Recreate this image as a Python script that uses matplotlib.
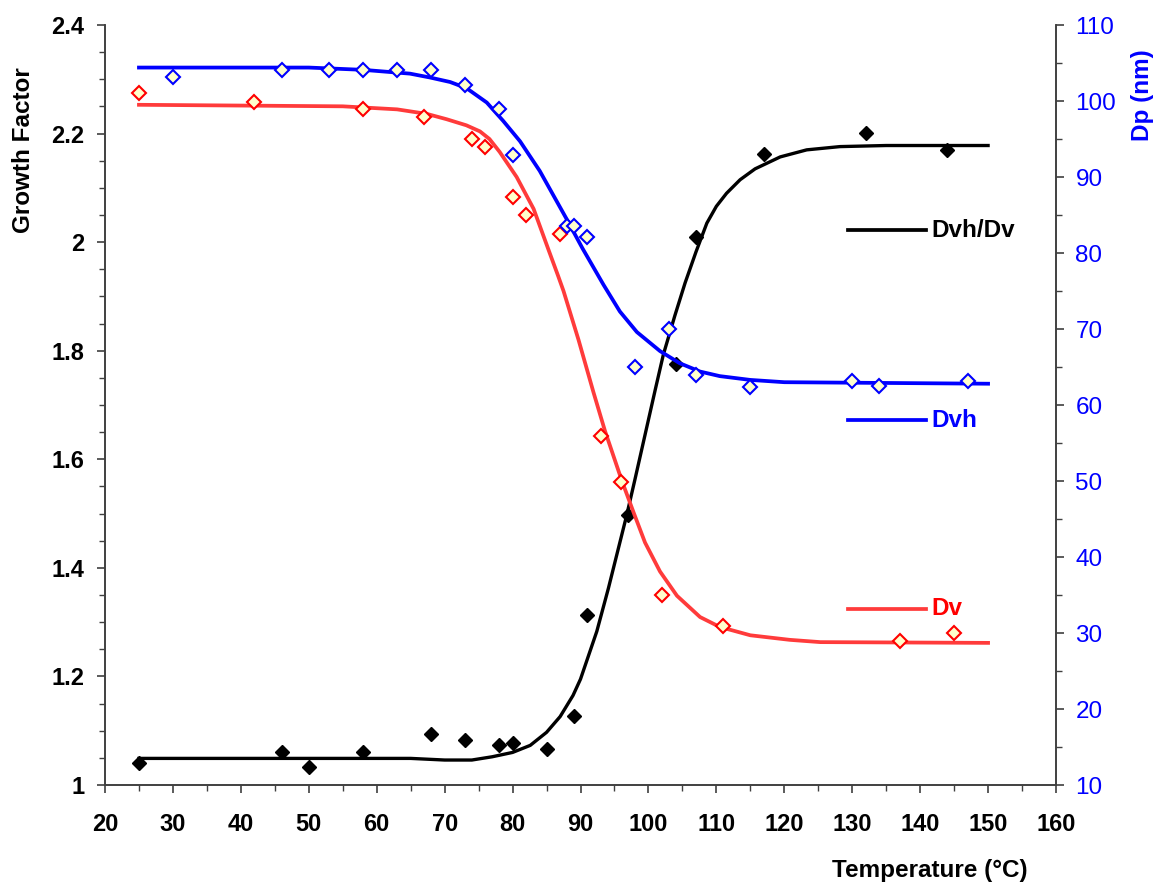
import matplotlib
matplotlib.use("Agg")
import matplotlib.pyplot as plt
from matplotlib.ticker import MultipleLocator

plt.rcParams['font.family'] = ['Liberation Sans', 'DejaVu Sans']

# measured points
temp_gf = [25, 46, 50, 58, 68, 73, 78, 80, 85, 89, 91, 97, 104, 107, 117, 132, 144]
gf_pts = [1.040, 1.061, 1.033, 1.061, 1.094, 1.083, 1.074, 1.077, 1.066, 1.128,
          1.313, 1.497, 1.775, 2.010, 2.162, 2.201, 2.170]

temp_dv = [25, 42, 58, 67, 74, 76, 80, 82, 87, 93, 96, 102, 111, 137, 145]
dv_pts = [101.1, 99.9, 98.9, 97.9, 95.0, 93.9, 87.4, 85.0, 82.5, 55.9, 49.9,
          35.0, 30.9, 29.0, 30.0]

temp_dvh = [30, 46, 53, 58, 63, 68, 73, 78, 80, 88, 89, 91, 98, 103, 107, 115,
            130, 134, 147]
dvh_pts = [103.1, 104.1, 104.1, 104.1, 104.1, 104.1, 102.1, 98.9, 92.9, 83.5,
           83.6, 82.1, 65.0, 70.0, 64.0, 62.4, 63.1, 62.5, 63.1]

# fitted curves
fit_t_gf = [25, 65, 70, 74, 77, 80, 82.6, 85, 87, 88.9, 90, 92.4, 94.1, 95.6,
            96.8, 98, 99.5, 101, 102.2, 103.9, 105.4, 107, 108.6, 110, 111.5,
            113.5, 115.7, 119.4, 123.3, 128.2, 135, 150]
fit_gf = [1.049, 1.049, 1.046, 1.046, 1.052, 1.060, 1.073, 1.097, 1.126, 1.165,
          1.195, 1.283, 1.362, 1.437, 1.497, 1.562, 1.645, 1.728, 1.793, 1.865,
          1.925, 1.982, 2.035, 2.066, 2.090, 2.115, 2.135, 2.157, 2.170, 2.176,
          2.178, 2.178]

fit_t_dv = [25, 55, 63, 67.4, 70.3, 73.2, 75.2, 76.6, 78.1, 80.6, 83.1, 85.3,
            86.7, 87.5, 89.7, 91.9, 93.6, 96.1, 97.8, 99.5, 101.7, 104.2, 107.6,
            110.5, 115, 120.8, 125.3, 150]
fit_dv = [99.5, 99.3, 98.9, 98.3, 97.6, 96.8, 96.0, 95.0, 93.3, 90.0, 85.8, 80.4,
          77.0, 75.0, 68.6, 61.7, 56.6, 50.0, 45.9, 41.9, 38.1, 34.9, 32.1,
          30.8, 29.7, 29.1, 28.8, 28.7]

fit_t_dvh = [25, 50, 58, 64.9, 67.8, 70.8, 73.2, 76.2, 78.6, 81.1, 84.0, 86.0,
             88.0, 90.3, 93.4, 95.8, 98.3, 101.7, 104.6, 107.6, 110.5, 115, 120,
             150]
fit_dvh = [104.4, 104.4, 104.1, 103.6, 103.1, 102.5, 101.7, 99.8, 97.4, 94.7,
           90.8, 87.6, 84.4, 80.6, 75.8, 72.3, 69.6, 67.1, 65.5, 64.4, 63.8,
           63.3, 63.0, 62.8]

red_line = '#ff3b3b'
blue = '#0000ff'
pale = '#ffffcc'

fig = plt.figure(figsize=(11.58, 8.85), dpi=100)
ax = fig.add_axes([105 / 1158, 100 / 885, 951 / 1158, 760 / 885])
ax2 = ax.twinx()

ax.plot(fit_t_gf, fit_gf, color='black', lw=2.4, zorder=2)
ax.plot(temp_gf, gf_pts, 'D', color='black', ms=7.5, zorder=5)

ax2.plot(fit_t_dv, fit_dv, color=red_line, lw=2.7, zorder=2)
ax2.plot(fit_t_dvh, fit_dvh, color=blue, lw=2.7, zorder=2)
ax2.plot(temp_dv, dv_pts, 'D', mfc=pale, mec='red', mew=1.5, ms=7.5, ls='none', zorder=5)
ax2.plot(temp_dvh, dvh_pts, 'D', mfc=pale, mec=blue, mew=1.5, ms=7.5, ls='none', zorder=5)

ax.set_xlim(20, 160)
ax.set_ylim(1, 2.4)
ax2.set_ylim(10, 110)

ax.xaxis.set_major_locator(MultipleLocator(10))
ax.xaxis.set_minor_locator(MultipleLocator(5))
ax.yaxis.set_major_locator(MultipleLocator(0.2))
ax.yaxis.set_minor_locator(MultipleLocator(0.05))
ax.yaxis.set_major_formatter(plt.FuncFormatter(lambda v, p: f"{v:g}"))
ax2.yaxis.set_major_locator(MultipleLocator(10))
ax2.yaxis.set_minor_locator(MultipleLocator(5))

for a in (ax, ax2):
    a.spines['top'].set_visible(False)
    for s in a.spines.values():
        s.set_color('#404040')
        s.set_linewidth(1.2)
ax.tick_params(axis='both', which='major', direction='out', length=6, width=1.2,
               color='#404040', labelsize=17, pad=9)
ax.tick_params(axis='both', which='minor', direction='out', length=4, width=1,
               color='#404040')
ax.tick_params(axis='x', pad=14)
for lab in ax.get_xticklabels() + ax.get_yticklabels():
    lab.set_fontweight('bold')
ax2.tick_params(axis='y', which='major', direction='out', length=6, width=1.2,
                color='#404040', labelsize=17.5, labelcolor=blue, pad=8)
ax2.tick_params(axis='y', which='minor', direction='out', length=4, width=1,
                color='#404040')

fig.text(24 / 1158, 1 - 150 / 885, 'Growth Factor', rotation=90, fontsize=17.5,
         fontweight='bold', ha='center', va='center')
fig.text(1143 / 1158, 1 - 95 / 885, 'Dp (nm)', rotation=90, fontsize=17.5,
         fontweight='bold', color=blue, ha='center', va='center')
fig.text(930 / 1158, 1 - 870 / 885, 'Temperature (°C)', fontsize=17.5,
         fontweight='bold', ha='center', va='center')

# curve labels
labels = [('Dvh/Dv', 'black', 0.730), ('Dvh', blue, 0.480), ('Dv', red_line, 0.2316)]
for text, col, yy in labels:
    ax.plot([0.781, 0.863], [yy, yy], color=col, lw=2.7, transform=ax.transAxes,
            clip_on=False, zorder=3)
    ax.text(0.869, yy, text, color=col if col != red_line else 'red', fontsize=17.5,
            fontweight='bold', transform=ax.transAxes, ha='left', va='center')

fig.savefig('out.png', dpi=100)
